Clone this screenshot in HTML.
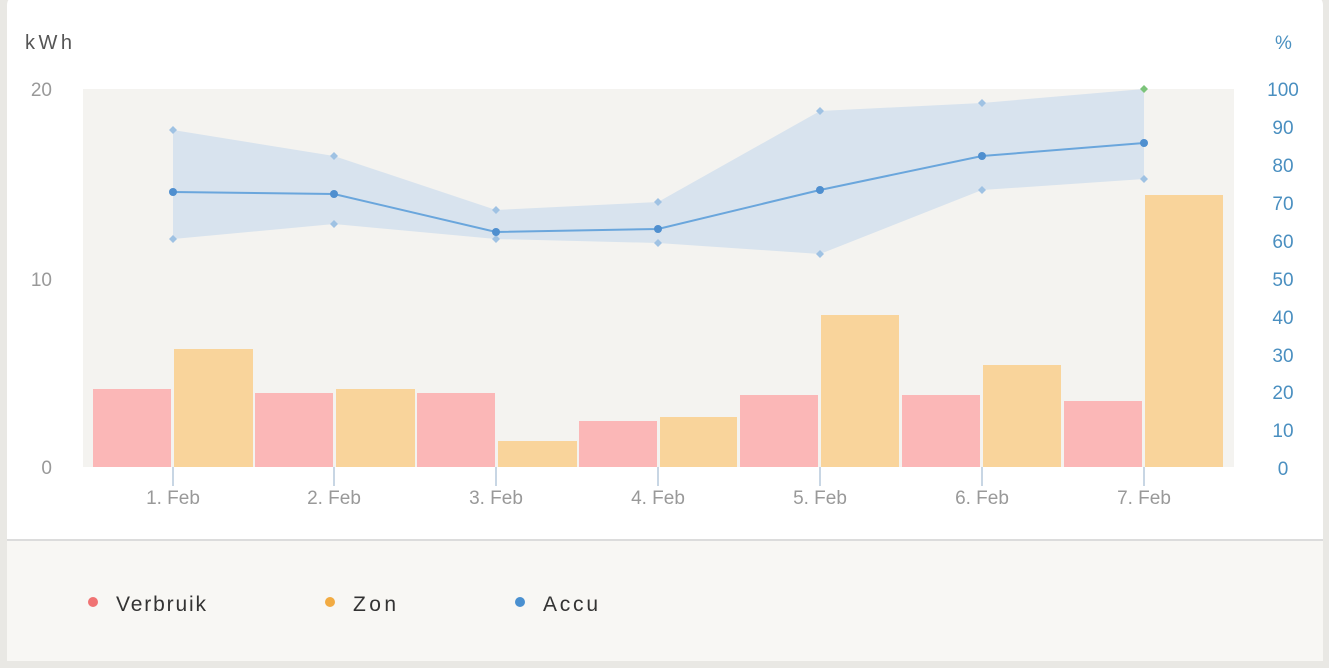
<!DOCTYPE html><html><head><style>
body{margin:0;background:#e9e8e4;font-family:"Liberation Sans",sans-serif}
</style></head><body>
<svg width="1329" height="663" xmlns="http://www.w3.org/2000/svg" font-family="Liberation Sans, sans-serif">
<rect x="0" y="0" width="1329" height="663" fill="#e9e8e4"/>
<rect x="7" y="-5" width="1316" height="666" rx="10" fill="#fff"/>
<rect x="7" y="540" width="1316" height="121" fill="#f8f7f4"/>
<line x1="7" y1="540" x2="1323" y2="540" stroke="#dcdcdc" stroke-width="2"/>
<rect x="83" y="89" width="1151" height="378" fill="#f4f3f0"/>
<text x="25" y="49" font-size="20" fill="#555" textLength="47">kWh</text>
<text x="1275" y="49" font-size="19" fill="#4a90c0">%</text>
<g font-size="19" fill="#999" text-anchor="end">
<text x="52" y="96">20</text><text x="52" y="286">10</text><text x="52" y="474">0</text></g>
<g font-size="19" fill="#4a8fc0" text-anchor="middle">
<text x="1283" y="96">100</text><text x="1283" y="134">90</text><text x="1283" y="172">80</text><text x="1283" y="210">70</text><text x="1283" y="248">60</text><text x="1283" y="286">50</text><text x="1283" y="324">40</text><text x="1283" y="362">30</text><text x="1283" y="399">20</text><text x="1283" y="437">10</text><text x="1283" y="475">0</text></g>
<g fill="#fbb7b7">
<rect x="93" y="389" width="78" height="78"/><rect x="255" y="393" width="78" height="74"/><rect x="417" y="393" width="78" height="74"/><rect x="579" y="421" width="78" height="46"/><rect x="740" y="395" width="78" height="72"/><rect x="902" y="395" width="78" height="72"/><rect x="1064" y="401" width="78" height="66"/></g>
<g fill="#f9d49b">
<rect x="174" y="349" width="79" height="118"/><rect x="336" y="389" width="79" height="78"/><rect x="498" y="441" width="79" height="26"/><rect x="660" y="417" width="77" height="50"/><rect x="821" y="315" width="78" height="152"/><rect x="983" y="365" width="78" height="102"/><rect x="1145" y="195" width="78" height="272"/></g>
<polygon points="173,130 334,156 496,210 658,202 820,111 982,103 1144,89 1144,179 982,190 820,254 658,243 496,239 334,224 173,239" fill="#c5d9ec" fill-opacity="0.6"/>
<g fill="#9fc2e3">
<path d="M173,126l4,4-4,4-4-4z M334,152l4,4-4,4-4-4z M496,206l4,4-4,4-4-4z M658,198l4,4-4,4-4-4z M820,107l4,4-4,4-4-4z M982,99l4,4-4,4-4-4z"/>
<path d="M173,235l4,4-4,4-4-4z M334,220l4,4-4,4-4-4z M496,235l4,4-4,4-4-4z M658,239l4,4-4,4-4-4z M820,250l4,4-4,4-4-4z M982,186l4,4-4,4-4-4z M1144,175l4,4-4,4-4-4z"/></g>
<path d="M1144,85l4,4-4,4-4-4z" fill="#7cc47a"/>
<polyline points="173,192 334,194 496,232 658,229 820,190 982,156 1144,143" fill="none" stroke="#6aa6dc" stroke-width="2"/>
<g fill="#4f8fcf"><circle cx="173" cy="192" r="4"/><circle cx="334" cy="194" r="4"/><circle cx="496" cy="232" r="4"/><circle cx="658" cy="229" r="4"/><circle cx="820" cy="190" r="4"/><circle cx="982" cy="156" r="4"/><circle cx="1144" cy="143" r="4"/></g>
<g stroke="#c8d6e4" stroke-width="2"><line x1="173" y1="467" x2="173" y2="486"/><line x1="334" y1="467" x2="334" y2="486"/><line x1="496" y1="467" x2="496" y2="486"/><line x1="658" y1="467" x2="658" y2="486"/><line x1="820" y1="467" x2="820" y2="486"/><line x1="982" y1="467" x2="982" y2="486"/><line x1="1144" y1="467" x2="1144" y2="486"/></g>
<g font-size="19" fill="#999" text-anchor="middle">
<text x="173" y="504">1. Feb</text><text x="334" y="504">2. Feb</text><text x="496" y="504">3. Feb</text><text x="658" y="504">4. Feb</text><text x="820" y="504">5. Feb</text><text x="982" y="504">6. Feb</text><text x="1144" y="504">7. Feb</text></g>
<circle cx="93" cy="602" r="5" fill="#f07373"/><text x="116" y="611" font-size="21" fill="#333" textLength="90">Verbruik</text>
<circle cx="330" cy="602" r="5" fill="#f2ab42"/><text x="353" y="611" font-size="21" fill="#333" textLength="43">Zon</text>
<circle cx="520" cy="602" r="5" fill="#4a90d0"/><text x="543" y="611" font-size="21" fill="#333" textLength="55">Accu</text>
</svg>
</body></html>
